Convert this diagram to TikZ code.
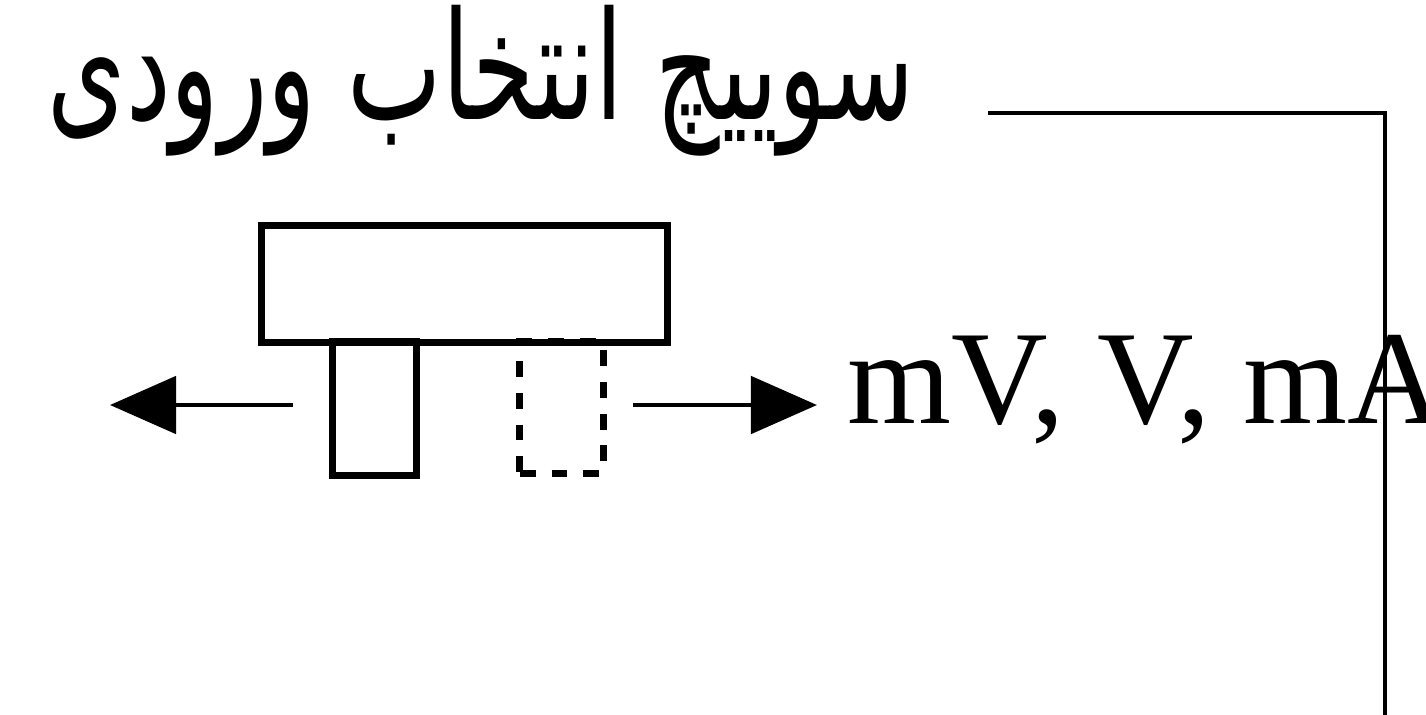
\documentclass[tikz,border=0pt]{standalone}
\usepackage{fontspec}
\usetikzlibrary{arrows.meta}
\TeXXeTstate=1
\newfontfamily\arabicfont[Script=Arabic]{DejaVu Sans}
\newfontfamily\timesfont{Liberation Serif}
\tikzset{
  boxthick/.style={draw, line width=2pt, inner sep=0pt, outer sep=0pt},
  dashbox/.style={draw, line width=2pt, inner sep=0pt, outer sep=0pt, dash pattern=on 4.5pt off 4.5pt},
  conn/.style={line width=1.3pt},
  arr/.style={line width=1.4pt, -{Triangle[length=0.66cm,width=0.57cm]}},
}
\begin{document}
\begin{tikzpicture}[x=0.01cm,y=-0.01cm]
\useasboundingbox (0,0) rectangle (1426,714);
\node[anchor=base east, inner sep=0pt] (lbl) at (915,119) {\scalebox{0.92}[1.38]{\fontsize{31pt}{36pt}\arabicfont\beginR سوییچ انتخاب ورودی\endR}};
\coordinate (c1) at (988,113);
\coordinate (c2) at (1385,113);
\coordinate (c3) at (1385,720);
\node[boxthick, minimum width=4.05cm, minimum height=1.16cm] (top) at (464.5,284) {};
\node[boxthick, minimum width=0.83cm, minimum height=1.33cm, anchor=north] (solid) at (374.5,342) {};
\node[dashbox, minimum width=0.83cm, minimum height=1.31cm, anchor=north] (dashed) at (561.5,342) {};
\coordinate (lstart) at (293,405);
\coordinate (ltip) at (110,405);
\coordinate (rstart) at (633,405);
\coordinate (rtip) at (817,405);
\draw[arr] (lstart) -- (ltip);
\draw[arr] (rstart) -- (rtip);
\node[anchor=base west, inner sep=0pt] (units) at (847,423) {\fontsize{38pt}{45pt}\timesfont mV, V, mA};
\draw[conn] (c1) -- (c2) -- (c3);
\end{tikzpicture}
\end{document}
